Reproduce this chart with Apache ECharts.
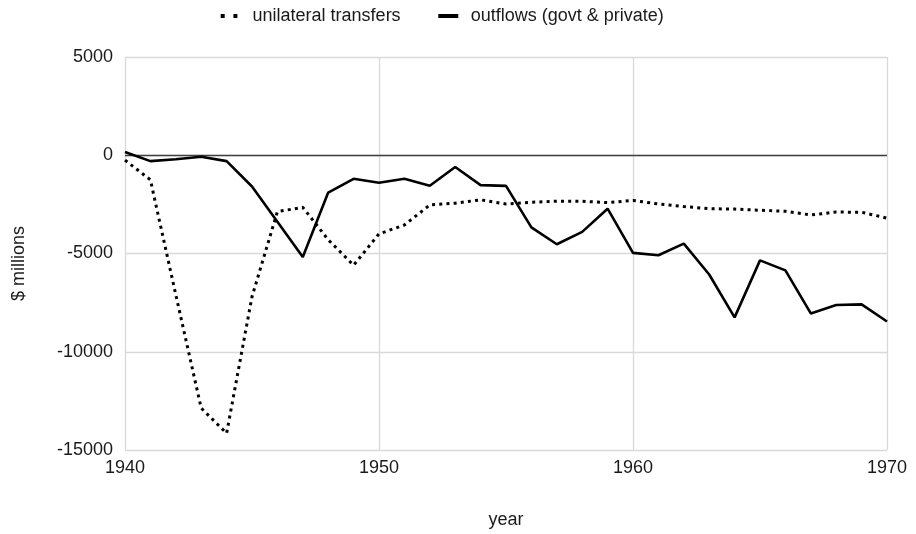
<!DOCTYPE html>
<html>
<head>
<meta charset="utf-8">
<script src="https://cdn.jsdelivr.net/npm/echarts@6/dist/echarts.min.js"></script>
<style>
  html, body { margin: 0; padding: 0; background: #fff; }
  #chart { width: 916px; height: 534px; }
</style>
</head>
<body>
<div id="chart"></div>
<script>
// Years 1940–1970
const years = [1940,1941,1942,1943,1944,1945,1946,1947,1948,1949,1950,
               1951,1952,1953,1954,1955,1956,1957,1958,1959,1960,
               1961,1962,1963,1964,1965,1966,1967,1968,1969,1970];

// $ millions
const unilateralTransfers = [-250,-1250,-7100,-12870,-14150,-7200,-2870,-2650,-4300,-5600,-4000,
                             -3550,-2530,-2440,-2270,-2480,-2390,-2340,-2340,-2410,-2300,
                             -2480,-2610,-2720,-2740,-2800,-2850,-3040,-2890,-2900,-3200];
const outflows = [170,-300,-200,-80,-300,-1590,-3380,-5180,-1900,-1200,-1400,
                  -1200,-1550,-600,-1520,-1560,-3670,-4530,-3900,-2720,-4970,
                  -5090,-4500,-6070,-8250,-5350,-5860,-8050,-7620,-7590,-8460];

const seriesNames = ['unilateral transfers', 'outflows (govt & private)'];
const yTicks = { min: -15000, max: 5000, interval: 5000 };
const xTicks = { min: 1940, max: 1970, interval: 10 };

const toPairs = vals => years.map((y, i) => [y, vals[i]]);

const chart = echarts.init(document.getElementById('chart'));
const font = 'Liberation Sans, Arial, sans-serif';
const textColor = '#1a1a1a';
const gridColor = '#d9d9d9';
const legendText = { fontSize: 18, color: textColor, fontFamily: font };

chart.setOption({
  animation: false,
  textStyle: { fontFamily: font },
  legend: [
    {
      left: 220.7, top: 7, padding: 0,
      itemWidth: 17, itemHeight: 4,
      textStyle: Object.assign({ padding: [0, 0, 0, 10] }, legendText),
      data: [{ name: seriesNames[0], icon: 'path://M0,0h4v4h-4z M12.7,0h4v4h-4z', itemStyle: { color: '#000' } }]
    },
    {
      left: 438.3, top: 7, padding: 0,
      itemWidth: 20, itemHeight: 4,
      textStyle: Object.assign({ padding: [0, 0, 0, 7.4] }, legendText),
      data: [{ name: seriesNames[1], icon: 'rect', itemStyle: { color: '#000' } }]
    }
  ],
  grid: { left: 125, right: 29, top: 57, bottom: 84 },
  xAxis: {
    type: 'value',
    min: xTicks.min, max: xTicks.max, interval: xTicks.interval,
    name: 'year', nameLocation: 'middle', nameGap: 61,
    nameTextStyle: { fontSize: 18, color: textColor },
    axisLine: { show: false, onZero: false },
    axisTick: { show: false },
    axisLabel: { fontSize: 18, color: textColor, margin: 9, formatter: v => String(v) },
    splitLine: { show: true, lineStyle: { color: gridColor, width: 1.3 } }
  },
  yAxis: {
    type: 'value',
    min: yTicks.min, max: yTicks.max, interval: yTicks.interval,
    name: '$ millions', nameLocation: 'middle', nameGap: 97,
    nameTextStyle: { fontSize: 18, color: textColor, padding: [0, 20, 0, 0] },
    axisLine: { show: false },
    axisTick: { show: false },
    axisLabel: { fontSize: 18, color: textColor, margin: 12, formatter: v => String(v) },
    splitLine: { show: true, lineStyle: { color: gridColor, width: 1.3 } }
  },
  series: [
    {
      name: seriesNames[0],
      type: 'line',
      data: toPairs(unilateralTransfers),
      symbol: 'none',
      lineStyle: { color: '#000', width: 3, type: [3, 4.2], cap: 'butt' },
      itemStyle: { color: '#000' },
      z: 3
    },
    {
      name: seriesNames[1],
      type: 'line',
      data: toPairs(outflows),
      symbol: 'none',
      lineStyle: { color: '#000', width: 2.6 },
      itemStyle: { color: '#000' },
      z: 4,
      markLine: {
        silent: true,
        symbol: ['none', 'none'],
        label: { show: false },
        lineStyle: { color: '#404040', width: 1.3, type: 'solid' },
        data: [{ yAxis: 0 }],
        z: 2
      }
    }
  ]
});
</script>
</body>
</html>
